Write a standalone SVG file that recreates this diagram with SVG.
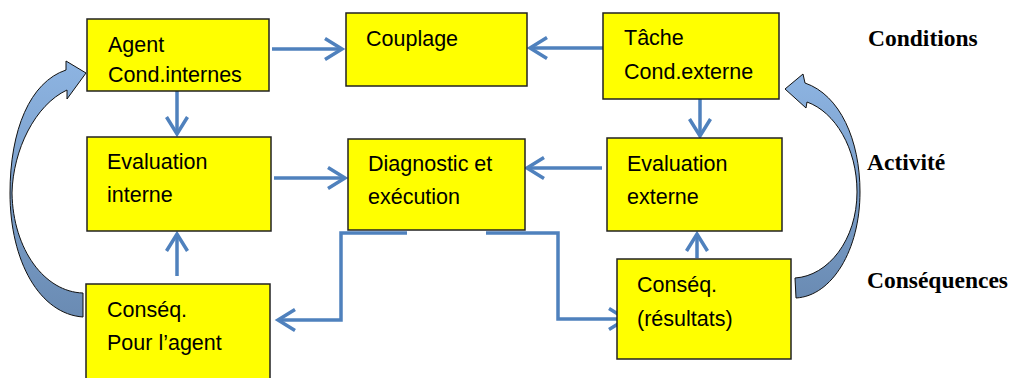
<svg xmlns="http://www.w3.org/2000/svg" width="1013" height="378" viewBox="0 0 1013 378">
<style>
.box{fill:#FFFF00;stroke:#222;stroke-width:1.5}
.t{font-family:"Liberation Sans",Arial,sans-serif;font-size:21.5px;fill:#000}
.lbl{font-family:"Liberation Serif","Times New Roman",serif;font-size:23.5px;font-weight:bold;fill:#000}
.c{fill:none;stroke:#4F81BD;stroke-width:3.5;marker-end:url(#ah)}
.big{fill:url(#g);stroke:#111;stroke-width:1}
</style>
<defs>
<marker id="ah" markerUnits="userSpaceOnUse" viewBox="-22 -14 26 28" refX="0" refY="0" markerWidth="26" markerHeight="28" orient="auto">
<path d="M-17,-10.5 L0,0 L-17,10.5" fill="none" stroke="#4F81BD" stroke-width="3.5"/>
</marker>
<linearGradient id="g" x1="0" y1="0" x2="0" y2="1">
<stop offset="0" stop-color="#8DB4E2"/>
<stop offset="1" stop-color="#6A8BB3"/>
</linearGradient>
</defs>
<g id="curved-left"><path class="big" d="M83,317 C40,314 10,262 10,193 C10,130 30,82 66,70 L66,61 L86,73 L67,99 L67,90 C35,105 13,150 12,193 C13,250 45,292 83,293 Z"/></g>
<g id="curved-right"><path class="big" d="M796,298 C832,296 860,250 860,192 C860,140 840,95 805,83 L803,74 L785,89 L806,108 L807,102 C835,112 857,148 857,192 C857,240 828,276 795,278 Z"/></g>
<g id="connectors">
<path class="c" d="M272,49 H342"/>
<path class="c" d="M603,48 H530"/>
<path class="c" d="M177,91 V134"/>
<path class="c" d="M700,99 V136"/>
<path class="c" d="M274,178 H345"/>
<path class="c" d="M602,168 H527"/>
<path class="c" d="M177,276 V234"/>
<path class="c" d="M697,258 V234"/>
<path class="c" d="M407,233 H341 V320 H278"/>
<path class="c" d="M486,233 H558 V319 H626"/>
</g>
<g id="agent"><rect class="box" x="87" y="19" width="182" height="72"/><text class="t" x="108" y="52">Agent</text><text class="t" x="108" y="82">Cond.internes</text></g>
<g id="couplage"><rect class="box" x="346" y="13" width="181" height="73"/><text class="t" x="366" y="46">Couplage</text></g>
<g id="tache"><rect class="box" x="603" y="13" width="176" height="86"/><text class="t" x="624" y="45">Tâche</text><text class="t" x="624" y="79">Cond.externe</text></g>
<g id="eval-interne"><rect class="box" x="87" y="137" width="184" height="94"/><text class="t" x="107" y="169">Evaluation</text><text class="t" x="107" y="202">interne</text></g>
<g id="diagnostic"><rect class="box" x="348" y="139" width="177" height="91"/><text class="t" x="368" y="171">Diagnostic et</text><text class="t" x="368" y="204">exécution</text></g>
<g id="eval-externe"><rect class="box" x="607" y="138" width="175" height="93"/><text class="t" x="627" y="171">Evaluation</text><text class="t" x="627" y="204">externe</text></g>
<g id="conseq-agent"><rect class="box" x="86" y="284" width="184" height="100"/><text class="t" x="107" y="317">Conséq.</text><text class="t" x="107" y="350">Pour l’agent</text></g>
<g id="conseq-resultats"><rect class="box" x="617" y="259" width="174" height="100"/><text class="t" x="637" y="292">Conséq.</text><text class="t" x="637" y="326">(résultats)</text></g>
<g id="labels">
<text class="lbl" x="868" y="46">Conditions</text>
<text class="lbl" x="867" y="170">Activité</text>
<text class="lbl" x="867" y="288">Conséquences</text>
</g>
</svg>
